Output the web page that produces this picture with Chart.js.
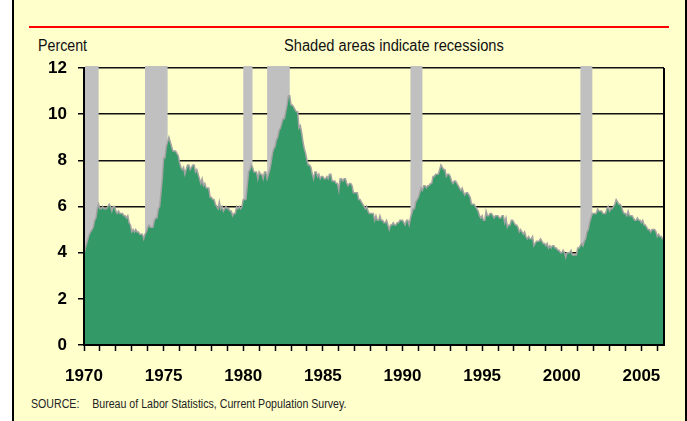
<!DOCTYPE html>
<html>
<head>
<meta charset="utf-8">
<script src="https://cdn.jsdelivr.net/npm/chart.js@4.4.1/dist/chart.umd.min.js"></script>
<style>
  body { margin: 0; background: #fff; width: 687px; height: 421px; overflow: hidden; position: relative; }
  #frame { position: absolute; left: 12px; top: 0; width: 675px; height: 421px; box-sizing: border-box;
           background: #FFFFCC; border-left: 2px solid #000; border-right: 2px solid #000; }
  #redline { position: absolute; left: 29px; top: 26px; width: 640px; height: 2px; background: #FF0000; }
  .lbl { position: absolute; font-family: "Liberation Sans", Arial, sans-serif; color: #111;
         white-space: nowrap; transform-origin: 0 50%; }
  #percent { left: 38px; top: 37px; font-size: 16px; transform: scaleX(0.89); }
  #shaded { left: 284px; top: 37px; font-size: 16px; transform: scaleX(0.915); }
  #source { left: 31px; top: 397px; font-size: 12.5px; color: #222; transform: scaleX(0.85); }
  #source span { margin-left: 15px; }
  #wrap { position: absolute; left: 0; top: 0; }
</style>
</head>
<body>
<div id="frame"></div>
<div id="redline"></div>
<div class="lbl" id="percent">Percent</div>
<div class="lbl" id="shaded">Shaded areas indicate recessions</div>
<div class="lbl" id="source">SOURCE:<span>Bureau of Labor Statistics, Current Population Survey.</span></div>
<div id="wrap"><canvas id="chart" width="687" height="421"></canvas></div>
<script>
// start: Data
const firstYear = 1970
const lastYear = 2006.42

// monthly unemployment rate, Jan 1970 - Jun 2006
const unemploymentRate = [
    3.9, 4.2, 4.4, 4.6, 4.8, 4.9, 5.0, 5.1, 5.4, 5.5, 5.9, 6.1,   // 1970
    5.9, 5.9, 6.0, 5.9, 5.9, 5.9, 6.0, 6.1, 6.0, 5.8, 6.0, 6.0,   // 1971
    5.8, 5.7, 5.8, 5.7, 5.7, 5.7, 5.6, 5.6, 5.5, 5.6, 5.3, 5.2,   // 1972
    4.9, 5.0, 4.9, 5.0, 4.9, 4.9, 4.8, 4.8, 4.8, 4.6, 4.8, 4.9,   // 1973
    5.1, 5.2, 5.1, 5.1, 5.1, 5.4, 5.5, 5.5, 5.9, 6.0, 6.6, 7.2,   // 1974
    8.1, 8.1, 8.6, 8.8, 9.0, 8.8, 8.6, 8.4, 8.4, 8.4, 8.3, 8.2,   // 1975
    7.9, 7.7, 7.6, 7.7, 7.4, 7.6, 7.8, 7.8, 7.6, 7.7, 7.8, 7.8,   // 1976
    7.5, 7.6, 7.4, 7.2, 7.0, 7.2, 6.9, 7.0, 6.8, 6.8, 6.8, 6.4,   // 1977
    6.4, 6.3, 6.3, 6.1, 6.0, 5.9, 6.2, 5.9, 6.0, 5.8, 5.9, 6.0,   // 1978
    5.9, 5.9, 5.8, 5.8, 5.6, 5.7, 5.7, 6.0, 5.9, 6.0, 5.9, 6.0,   // 1979
    6.3, 6.3, 6.3, 6.9, 7.5, 7.6, 7.8, 7.7, 7.5, 7.5, 7.5, 7.2,   // 1980
    7.5, 7.4, 7.4, 7.2, 7.5, 7.5, 7.2, 7.4, 7.6, 7.9, 8.3, 8.5,   // 1981
    8.6, 8.9, 9.0, 9.3, 9.4, 9.6, 9.8, 9.8, 10.1, 10.4, 10.8, 10.8, // 1982
    10.4, 10.4, 10.3, 10.2, 10.1, 10.1, 9.4, 9.5, 9.2, 8.8, 8.5, 8.3, // 1983
    8.0, 7.8, 7.8, 7.7, 7.4, 7.2, 7.5, 7.5, 7.3, 7.4, 7.2, 7.3,   // 1984
    7.3, 7.2, 7.2, 7.3, 7.2, 7.4, 7.4, 7.1, 7.1, 7.1, 7.0, 7.0,   // 1985
    6.7, 7.2, 7.2, 7.1, 7.2, 7.2, 7.0, 6.9, 7.0, 7.0, 6.9, 6.6,   // 1986
    6.6, 6.6, 6.6, 6.3, 6.3, 6.2, 6.1, 6.0, 5.9, 6.0, 5.8, 5.7,   // 1987
    5.7, 5.7, 5.7, 5.4, 5.6, 5.4, 5.4, 5.6, 5.4, 5.4, 5.3, 5.3,   // 1988
    5.4, 5.2, 5.0, 5.2, 5.2, 5.3, 5.2, 5.2, 5.3, 5.3, 5.4, 5.4,   // 1989
    5.4, 5.3, 5.2, 5.4, 5.4, 5.2, 5.5, 5.7, 5.9, 5.9, 6.2, 6.3,   // 1990
    6.4, 6.6, 6.8, 6.7, 6.9, 6.9, 6.8, 6.9, 6.9, 7.0, 7.0, 7.3,   // 1991
    7.3, 7.4, 7.4, 7.4, 7.6, 7.8, 7.7, 7.6, 7.6, 7.3, 7.4, 7.4,   // 1992
    7.3, 7.1, 7.0, 7.1, 7.1, 7.0, 6.9, 6.8, 6.7, 6.8, 6.6, 6.5,   // 1993
    6.6, 6.6, 6.5, 6.4, 6.1, 6.1, 6.1, 6.0, 5.9, 5.8, 5.6, 5.5,   // 1994
    5.6, 5.4, 5.4, 5.8, 5.6, 5.6, 5.7, 5.7, 5.6, 5.5, 5.6, 5.6,   // 1995
    5.6, 5.5, 5.5, 5.6, 5.6, 5.3, 5.5, 5.1, 5.2, 5.2, 5.4, 5.4,   // 1996
    5.3, 5.2, 5.2, 5.1, 4.9, 5.0, 4.9, 4.8, 4.9, 4.7, 4.6, 4.7,   // 1997
    4.6, 4.6, 4.7, 4.3, 4.4, 4.5, 4.5, 4.5, 4.6, 4.5, 4.4, 4.4,   // 1998
    4.3, 4.4, 4.2, 4.3, 4.2, 4.3, 4.3, 4.2, 4.2, 4.1, 4.1, 4.0,   // 1999
    4.0, 4.1, 4.0, 3.8, 4.0, 4.0, 4.0, 4.1, 3.9, 3.9, 3.9, 3.9,   // 2000
    4.2, 4.2, 4.3, 4.4, 4.3, 4.5, 4.6, 4.9, 5.0, 5.3, 5.5, 5.7,   // 2001
    5.7, 5.7, 5.7, 5.9, 5.8, 5.8, 5.8, 5.7, 5.7, 5.7, 5.9, 6.0,   // 2002
    5.8, 5.9, 5.9, 6.0, 6.1, 6.3, 6.2, 6.1, 6.1, 6.0, 5.8, 5.7,   // 2003
    5.7, 5.6, 5.8, 5.6, 5.6, 5.6, 5.5, 5.4, 5.4, 5.5, 5.4, 5.4,   // 2004
    5.3, 5.4, 5.2, 5.2, 5.1, 5.0, 5.0, 4.9, 5.0, 5.0, 5.0, 4.9,   // 2005
    4.7, 4.8, 4.7, 4.7, 4.6, 4.6                                  // 2006
]

// recessions as decimal years
const recessionStart = [1969.92, 1973.83, 1980.0, 1981.5, 1990.5, 2001.17]
const recessionEnd = [1970.92, 1975.25, 1980.58, 1982.92, 1991.25, 2001.92]

const yTicks = [0, 2, 4, 6, 8, 10, 12]
// end: Data

const points = unemploymentRate.map((v, i) => ({ x: firstYear + i / 12, y: v }))

const tickFont = { family: '"Liberation Sans", Arial, sans-serif', size: 17, weight: 'bold' }

const recessionShading = {
    id: 'recessionShading',
    beforeDatasetsDraw(chart) {
        const { ctx, chartArea, scales: { x } } = chart
        ctx.save()
        ctx.fillStyle = '#C0C0C0'
        recessionStart.forEach((s, i) => {
            const x0 = Math.max(x.getPixelForValue(s), chartArea.left + 1)
            const x1 = x.getPixelForValue(recessionEnd[i])
            ctx.fillRect(x0, chartArea.top - 2, x1 - x0, chartArea.bottom - chartArea.top + 2)
        })
        ctx.restore()
    },
    afterDatasetsDraw(chart) {
        // axis frame drawn over the green area
        const { ctx, chartArea: a } = chart
        ctx.save()
        ctx.strokeStyle = '#000'
        ctx.lineWidth = 2
        ctx.beginPath()
        ctx.moveTo(a.left, a.top)
        ctx.lineTo(a.left, a.bottom)
        ctx.lineTo(a.right, a.bottom)
        ctx.lineTo(a.right, a.top)
        ctx.stroke()
        ctx.restore()
    }
}

const unemploymentChart = new Chart(document.getElementById('chart'), {
    type: 'line',
    data: {
        datasets: [{
            data: points,
            fill: 'origin',
            backgroundColor: '#339966',
            borderColor: '#A3A3A3',
            borderWidth: 1.5,
            pointRadius: 0,
            tension: 0
        }]
    },
    options: {
        responsive: false,
        animation: false,
        devicePixelRatio: 1,
        layout: { padding: { left: 0, top: 68, right: 23, bottom: 0 } },
        plugins: {
            legend: { display: false },
            tooltip: { enabled: false }
        },
        scales: {
            x: {
                type: 'linear',
                min: firstYear,
                max: lastYear,
                afterFit(scale) { scale.height = 76 },
                grid: { drawOnChartArea: false, drawTicks: true, tickLength: 6, tickColor: '#000', tickWidth: 1.5 },
                border: { color: '#000', width: 2 },
                ticks: {
                    stepSize: 1,
                    includeBounds: false,
                    autoSkip: false,
                    maxRotation: 0,
                    padding: 15,
                    color: '#000',
                    font: tickFont,
                    callback: v => Math.round(v) % 5 === 0 ? String(Math.round(v)) : ''
                }
            },
            y: {
                min: 0,
                max: 12,
                afterFit(scale) { scale.width = 84 },
                afterBuildTicks(scale) { scale.ticks = yTicks.map(v => ({ value: v })) },
                grid: { color: '#111', lineWidth: 1.5, tickLength: 6, tickColor: '#000' },
                border: { color: '#000', width: 2 },
                ticks: { padding: 11, color: '#000', font: tickFont }
            }
        }
    },
    plugins: [recessionShading]
})
</script>
</body>
</html>
